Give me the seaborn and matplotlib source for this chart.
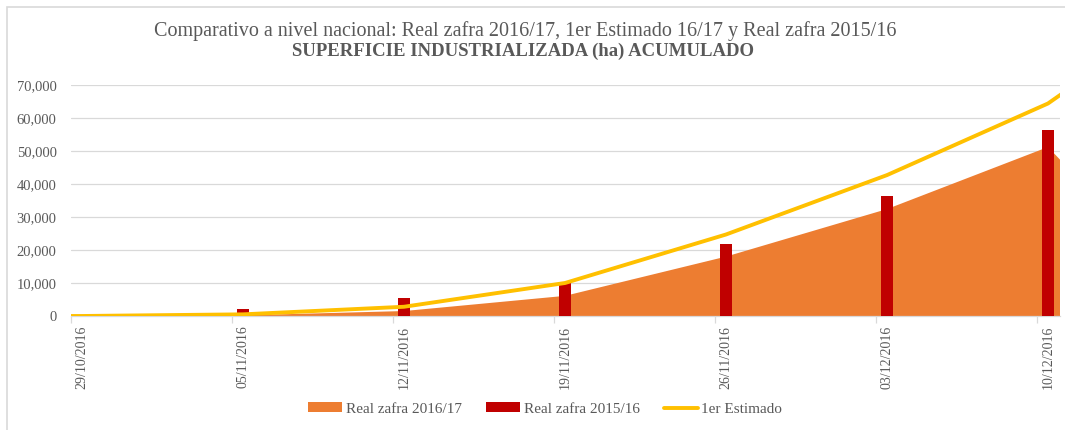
import pandas as pd
import seaborn as sns
import matplotlib.pyplot as plt
from matplotlib.patches import Patch, Rectangle
from matplotlib.lines import Line2D
from matplotlib.ticker import FuncFormatter, MultipleLocator

# datos semanales (ha acumuladas)
fechas = ['22/10/2016', '29/10/2016', '05/11/2016', '12/11/2016', '19/11/2016',
          '26/11/2016', '03/12/2016', '10/12/2016', '17/12/2016']
real_1617 = [0, 0, 200, 1500, 6100, 18000, 32400, 51200, 0]
real_1516 = [0, 0, 2000, 5500, 10100, 21900, 36400, 56400, 0]
estimado = [0, 0, 500, 2800, 10000, 24700, 42700, 64400, 98500]
primera_fecha = '29/10/2016'
ultima_fecha = '10/12/2016'

titulo = 'Comparativo a nivel nacional: Real zafra 2016/17, 1er Estimado 16/17 y Real zafra 2015/16'
subtitulo = 'SUPERFICIE INDUSTRIALIZADA (ha) ACUMULADO'

c_area = '#ED7D31'
c_barra = '#C00000'
c_linea = '#FFC000'
c_texto = '#595959'
c_grid = '#D9D9D9'

df = pd.DataFrame({'fecha': pd.to_datetime(fechas, dayfirst=True),
                   'real_1617': real_1617, 'real_1516': real_1516,
                   'estimado': estimado})
inicio = pd.to_datetime(primera_fecha, dayfirst=True)
df['dia'] = (df['fecha'] - inicio).dt.days
dia_fin = (pd.to_datetime(ultima_fecha, dayfirst=True) - inicio).days

sns.set_theme(style='white')
plt.rcParams['font.family'] = ['Liberation Serif', 'DejaVu Serif']

fig = plt.figure(figsize=(10.65, 4.30), dpi=100)
ax = fig.add_axes([70.5 / 1065, 1 - 316 / 430, 989 / 1065, 231 / 430])

# area: real zafra 2016/17
ax.fill_between(df['dia'], df['real_1617'], color=c_area, lw=0, zorder=2)

# barras: real zafra 2015/16
barras = df[df['real_1516'] > 0]
sns.barplot(data=barras, x='dia', y='real_1516', native_scale=True, width=0.078,
            color=c_barra, saturation=1, errorbar=None, linewidth=0,
            edgecolor=c_barra, ax=ax, zorder=3)

# linea: 1er estimado
sns.lineplot(data=df, x='dia', y='estimado', color=c_linea, lw=2.8,
             estimator=None, ax=ax, zorder=4)

ax.set_xlim(-0.5, dia_fin + 0.5)
ax.set_ylim(0, 70000)
ax.yaxis.set_major_locator(MultipleLocator(10000))
ax.yaxis.set_major_formatter(FuncFormatter(lambda v, p: f'{v:,.0f}'))
ax.grid(axis='y', color=c_grid, lw=0.9)
ax.grid(axis='x', visible=False)
ax.set_axisbelow(True)

etiquetas = df[(df['dia'] >= 0) & (df['dia'] <= dia_fin)]
ax.set_xticks(etiquetas['dia'])
ax.set_xticklabels(etiquetas['fecha'].dt.strftime('%d/%m/%Y'), rotation=90)
ax.set_xticks(etiquetas['dia'] - 0.5, minor=True)
ax.tick_params(axis='x', which='major', length=0, pad=7, labelsize=10, labelcolor=c_texto)
ax.tick_params(axis='x', which='minor', length=5, width=0.9, color=c_grid, bottom=True)
ax.tick_params(axis='y', length=0, pad=10, labelsize=10.5, labelcolor=c_texto)
ax.set_xlabel('')
ax.set_ylabel('')
for s in ['left', 'top', 'right']:
    ax.spines[s].set_visible(False)
ax.spines['bottom'].set_color(c_grid)
ax.spines['bottom'].set_linewidth(0.9)

fig.text(0.493, 1 - 31 / 430, titulo, ha='center', va='center', fontsize=14.5, color=c_texto)
fig.text(0.491, 1 - 51 / 430, subtitulo, ha='center', va='center', fontsize=13.5,
         fontweight='bold', color=c_texto)

handles = [Patch(facecolor=c_area, edgecolor='none'),
           Patch(facecolor=c_barra, edgecolor='none'),
           Line2D([], [], color=c_linea, lw=2.8)]
labels = ['Real zafra 2016/17', 'Real zafra 2015/16', '1er Estimado']
leg = fig.legend(handles, labels, loc='center', bbox_to_anchor=(0.512, 1 - 409 / 430),
                 ncol=3, frameon=False, fontsize=11, handlelength=2.2, handleheight=0.55,
                 columnspacing=1.6, handletextpad=0.25)
for t in leg.get_texts():
    t.set_color(c_texto)

fig.patches.append(Rectangle((7 / 1065, -0.1), 1.2, (430 - 7) / 430 + 0.1,
                             transform=fig.transFigure, fill=False,
                             edgecolor=c_grid, lw=1.2))

fig.savefig('out.png', dpi=100)
